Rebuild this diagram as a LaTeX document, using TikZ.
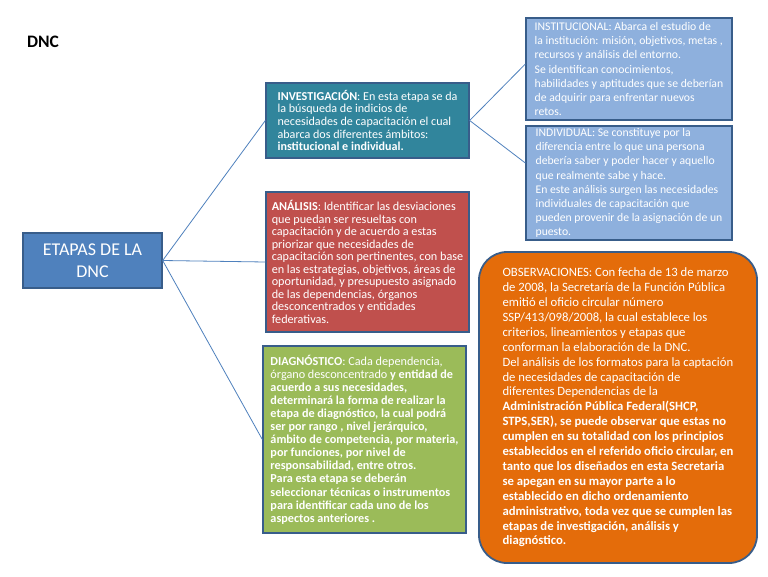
\documentclass[tikz,border=0pt]{standalone}
\usepackage{fontspec}
\setmainfont{Carlito}
\definecolor{etapasfill}{HTML}{4F81BD}
\definecolor{edge}{HTML}{385D8A}
\definecolor{invfill}{HTML}{31859C}
\definecolor{anafill}{HTML}{C0504D}
\definecolor{diagfill}{HTML}{9BBB59}
\definecolor{lightfill}{HTML}{8EB0DD}
\definecolor{obsfill}{HTML}{E46C0A}
\definecolor{connc}{HTML}{4F81BD}
\begin{document}
\begin{tikzpicture}[x=1pt,y=-1pt,
  box/.style={draw=edge, line width=1.3pt, text=white, inner sep=0pt, align=left},
  conn/.style={draw=connc, line width=0.8pt}]
\useasboundingbox (0,0) rectangle (768,576);
\fill[white] (0,0) rectangle (768,576);

\node[font=\fontsize{17.5}{20}\selectfont\bfseries, text=black] (title) at (43,41.5) {DNC};

\node[box, fill=etapasfill, minimum width=139pt, minimum height=55pt, align=center,
  font=\fontsize{18}{22.5}\selectfont] (etapas) at (92.5,260.5) {ETAPAS DE LA\\DNC};

\node[box, fill=invfill, minimum width=203pt, minimum height=75pt,
  font=\fontsize{12.1}{12.6}\selectfont] (inv) at (367.5,120.5)
  {\textbf{INVESTIGACIÓN}: En esta etapa se da\\la búsqueda de indicios de\\necesidades de capacitación el cual\\abarca dos diferentes ámbitos:\\\textbf{institucional e individual.}};

\node[box, fill=anafill, minimum width=203pt, minimum height=140pt,
  font=\fontsize{12.2}{12.5}\selectfont] (ana) at (367.5,262)
  {\textbf{ANÁLISIS}: Identificar las desviaciones\\que puedan ser resueltas con\\capacitación y de acuerdo a estas\\priorizar que necesidades de\\capacitación son pertinentes, con base\\en las estrategias, objetivos, áreas de\\oportunidad, y presupuesto asignado\\de las dependencias, órganos\\desconcentrados y entidades\\federativas.};

\node[box, fill=diagfill, minimum width=203pt, minimum height=187pt,
  font=\fontsize{12.2}{13.1}\selectfont] (diag) at (364.5,439.5)
  {\textbf{DIAGNÓSTICO}: Cada dependencia,\\órgano desconcentrado \textbf{y entidad de}\\\textbf{acuerdo a sus necesidades,}\\\textbf{determinará la forma de realizar la}\\\textbf{etapa de diagnóstico, la cual podrá}\\\textbf{ser por rango , nivel jerárquico,}\\\textbf{ámbito de competencia, por materia,}\\\textbf{por funciones, por nivel de}\\\textbf{responsabilidad, entre otros.}\\\textbf{Para esta etapa se deberán}\\\textbf{seleccionar técnicas o instrumentos}\\\textbf{para identificar cada uno de los}\\\textbf{aspectos anteriores .}};

\node[box, fill=lightfill, minimum width=206pt, minimum height=102pt,
  font=\fontsize{11.7}{14.2}\selectfont] (inst) at (629,69)
  {INSTITUCIONAL: Abarca el estudio de\\la institución: misión, objetivos, metas ,\\recursos y análisis del entorno.\\Se identifican conocimientos,\\habilidades y aptitudes que se deberían\\de adquirir para enfrentar nuevos\\retos.};

\node[box, fill=lightfill, minimum width=206pt, minimum height=114pt,
  font=\fontsize{11.7}{14.1}\selectfont] (indiv) at (629,183)
  {INDIVIDUAL: Se constituye por la\\diferencia entre lo que una persona\\debería saber y poder hacer y aquello\\que realmente sabe y hace.\\En este análisis surgen las necesidades\\individuales de capacitación que\\pueden provenir de la asignación de un\\puesto.};

\node[box, fill=obsfill, rounded corners=28pt, line width=1.8pt, minimum width=278pt, minimum height=311pt,
  font=\fontsize{12.7}{14.9}\selectfont] (obs) at (618,407.5)
  {OBSERVACIONES: Con fecha de 13 de marzo\\de 2008, la Secretaría de la Función Pública\\emitió el oficio circular número\\SSP/413/098/2008, la cual establece los\\criterios, lineamientos y etapas que\\conforman la elaboración de la DNC.\\Del análisis de los formatos para la captación\\de necesidades de capacitación de\\diferentes Dependencias de la\\\textbf{Administración Pública Federal(SHCP,}\\\textbf{STPS,SER), se puede observar que estas no}\\\textbf{cumplen en su totalidad con los principios}\\\textbf{establecidos en el referido oficio circular, en}\\\textbf{tanto que los diseñados en esta Secretaria}\\\textbf{se apegan en su mayor parte a lo}\\\textbf{establecido en dicho ordenamiento}\\\textbf{administrativo, toda vez que se cumplen las}\\\textbf{etapas de investigación, análisis y}\\\textbf{diagnóstico.}};

\draw[conn] (etapas.east) -- (inv.west);
\draw[conn] (etapas.east) -- (ana.west);
\draw[conn] (etapas.east) -- (diag.west);
\draw[conn] (inv.east) -- ([yshift=5pt]inst.west);
\draw[conn] (inv.east) -- ([yshift=20pt]indiv.west);
\end{tikzpicture}
\end{document}
